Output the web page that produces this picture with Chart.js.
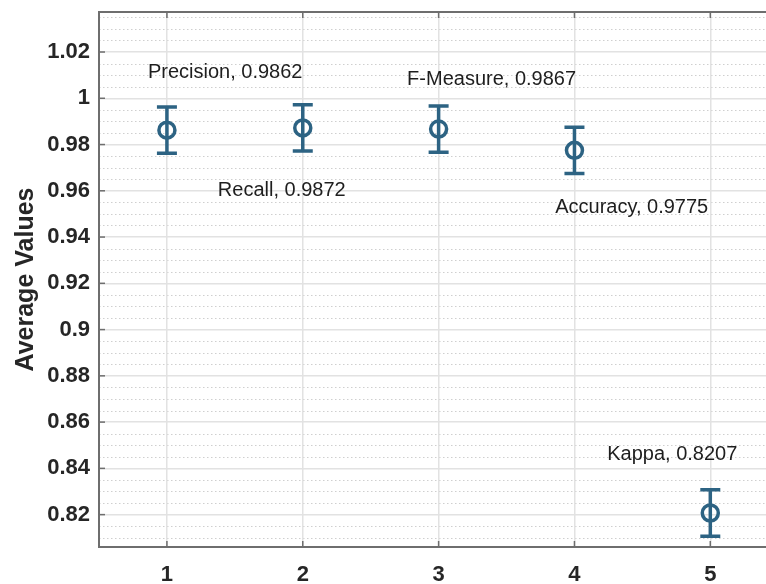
<!DOCTYPE html>
<html>
<head>
<meta charset="utf-8">
<script src="https://cdn.jsdelivr.net/npm/chart.js@4.4.1/dist/chart.umd.min.js"></script>
<style>
  html, body { margin: 0; padding: 0; background: #ffffff; overflow: hidden; }
  #wrap { position: relative; width: 766px; height: 584px; }
</style>
</head>
<body>
<div id="wrap"><canvas id="c" width="766" height="584"></canvas></div>
<script>
// Metric summary: mean value with +/- error for each measure
const metrics = ['Precision', 'Recall', 'F-Measure', 'Accuracy', 'Kappa'];
const xPos = [1, 2, 3, 4, 5];
const means = [0.9862, 0.9872, 0.9867, 0.9775, 0.8207];
const errors = [0.01, 0.01, 0.01, 0.01, 0.01];

// Axis ticks
const xTicks = [1, 2, 3, 4, 5];
const yTicks = [0.82, 0.84, 0.86, 0.88, 0.9, 0.92, 0.94, 0.96, 0.98, 1, 1.02];

// Where each annotation text starts (data units)
const labelX = [0.86, 1.375, 2.768, 3.858, 4.241];
const labelY = [1.0112, 0.9603, 1.0082, 0.9529, 0.8458];

const MARK = '#2d6383';
const AXIS = '#6e6e6e';
const FONT = "'Liberation Sans', Arial, Helvetica, sans-serif";

const fmt = v => String(Number(v.toFixed(4)));

// Dotted minor grid every 0.005 plus a top frame line and inward ticks
const framePlugin = {
  id: 'frame',
  beforeDraw(chart) {
    const { ctx, chartArea: a, scales: { y } } = chart;
    ctx.save();
    ctx.strokeStyle = '#cfcfcf';
    ctx.lineWidth = 1;
    ctx.setLineDash([1.5, 2.5]);
    const step = 0.005;
    const start = Math.ceil(y.min / step) * step;
    for (let v = start; v <= y.max + 1e-9; v += step) {
      const r = Math.round(v / 0.02 * 1000) / 1000;
      if (Math.abs(r - Math.round(r)) < 1e-6) continue;
      const py = Math.round(y.getPixelForValue(v)) + 0.5;
      ctx.beginPath();
      ctx.moveTo(a.left, py);
      ctx.lineTo(a.right, py);
      ctx.stroke();
    }
    ctx.restore();
  },
  afterDatasetsDraw(chart) {
    const { ctx, chartArea: a, scales: { x, y } } = chart;
    ctx.save();
    ctx.strokeStyle = AXIS;
    ctx.lineWidth = 2;
    ctx.beginPath();
    ctx.moveTo(a.left - 1, a.top);
    ctx.lineTo(a.right, a.top);
    ctx.stroke();
    const len = 6;
    ctx.lineWidth = 1.5;
    xTicks.forEach(v => {
      const px = x.getPixelForValue(v);
      ctx.beginPath();
      ctx.moveTo(px, a.bottom); ctx.lineTo(px, a.bottom - len);
      ctx.moveTo(px, a.top); ctx.lineTo(px, a.top + len);
      ctx.stroke();
    });
    yTicks.forEach(v => {
      const py = y.getPixelForValue(v);
      ctx.beginPath();
      ctx.moveTo(a.left, py); ctx.lineTo(a.left + len, py);
      ctx.stroke();
    });
    ctx.restore();
  }
};

// Vertical error bars with caps, drawn beneath the markers
const errorBarPlugin = {
  id: 'errorBars',
  beforeDatasetsDraw(chart) {
    const { ctx, scales: { x, y } } = chart;
    ctx.save();
    ctx.strokeStyle = MARK;
    ctx.lineWidth = 3.5;
    const cap = 10;
    means.forEach((m, i) => {
      const px = x.getPixelForValue(xPos[i]);
      const top = y.getPixelForValue(m + errors[i]);
      const bot = y.getPixelForValue(m - errors[i]);
      ctx.beginPath();
      ctx.moveTo(px, top); ctx.lineTo(px, bot);
      ctx.moveTo(px - cap, top); ctx.lineTo(px + cap, top);
      ctx.moveTo(px - cap, bot); ctx.lineTo(px + cap, bot);
      ctx.stroke();
    });
    ctx.restore();
  }
};

// "Name, value" annotations
const labelPlugin = {
  id: 'valueLabels',
  afterDatasetsDraw(chart) {
    const { ctx, scales: { x, y } } = chart;
    ctx.save();
    ctx.fillStyle = '#1e1e1e';
    ctx.font = '20px ' + FONT;
    ctx.textAlign = 'left';
    ctx.textBaseline = 'middle';
    metrics.forEach((name, i) => {
      ctx.fillText(name + ', ' + means[i].toFixed(4),
        x.getPixelForValue(labelX[i]), y.getPixelForValue(labelY[i]));
    });
    ctx.restore();
  }
};

new Chart(document.getElementById('c'), {
  type: 'scatter',
  data: {
    datasets: [{
      label: 'Average',
      data: xPos.map((v, i) => ({ x: v, y: means[i] })),
      showLine: false,
      pointStyle: 'circle',
      pointRadius: 8,
      pointHoverRadius: 8,
      pointBorderWidth: 3.5,
      pointBorderColor: MARK,
      pointBackgroundColor: 'rgba(0,0,0,0)'
    }]
  },
  options: {
    responsive: false,
    animation: false,
    events: [],
    layout: { autoPadding: false, padding: { top: 12, right: 0, left: 0, bottom: 0 } },
    plugins: { legend: { display: false }, tooltip: { enabled: false } },
    scales: {
      x: {
        type: 'linear',
        min: 0.5,
        max: 5.41,
        afterBuildTicks: s => { s.ticks = xTicks.map(v => ({ value: v })); },
        afterFit: s => { s.height = 37; s.paddingLeft = 0; s.paddingRight = 0; },
        grid: { color: '#e2e2e2', lineWidth: 1.5, drawTicks: false },
        border: { color: AXIS, width: 2 },
        ticks: {
          padding: 15,
          autoSkip: false,
          maxRotation: 0,
          color: '#262626',
          font: { family: FONT, size: 22, weight: 'bold' },
          callback: v => fmt(v)
        }
      },
      y: {
        min: 0.806,
        max: 1.0373,
        afterBuildTicks: s => { s.ticks = yTicks.map(v => ({ value: v })); },
        afterFit: s => { s.width = 99; s.paddingTop = 0; s.paddingBottom = 0; },
        grid: { color: '#e2e2e2', lineWidth: 1.5, drawTicks: false },
        border: { color: AXIS, width: 2 },
        title: {
          display: true,
          text: 'Average Values',
          color: '#262626',
          font: { family: FONT, size: 25, weight: 'bold' },
          padding: { top: 11, bottom: 0 }
        },
        ticks: {
          padding: 9,
          color: '#262626',
          font: { family: FONT, size: 22, weight: 'bold' },
          callback: v => fmt(v)
        }
      }
    }
  },
  plugins: [framePlugin, errorBarPlugin, labelPlugin]
});
</script>
</body>
</html>
